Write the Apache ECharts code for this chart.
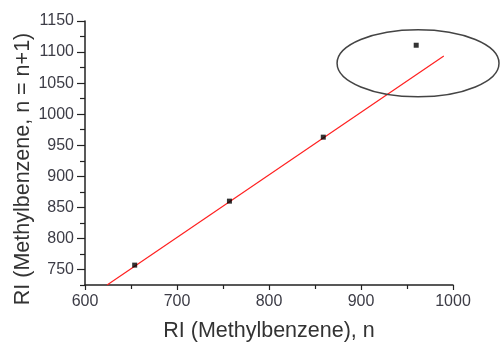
<!DOCTYPE html>
<html>
<head>
<meta charset="utf-8">
<script src="https://cdn.jsdelivr.net/npm/echarts@6/dist/echarts.min.js"></script>
<style>
  html, body { margin: 0; padding: 0; background: #fff; }
  #chart { width: 504px; height: 342px; }
</style>
</head>
<body>
<div id="chart"></div>
<script>
// Retention indices: n-membered vs (n+1)-membered methylbenzenes
const riN = [654, 757, 859, 960];
const riN1 = [757, 860, 963, 1111];

// Linear fit drawn across the plotted range
const fitX = [624, 990];
const fitY = [725, 1093.5];

// Outlier highlighted by an ellipse (data units)
const outlierCenter = [962, 1082];
const outlierRadius = [88, 54];

const xTicks = [600, 700, 800, 900, 1000];
const yTicks = [750, 800, 850, 900, 950, 1000, 1050, 1100, 1150];
// short ticks halfway between labelled values
const yMinorTicks = yTicks.map(v => v - 25);

const font = 'Liberation Sans, Arial, sans-serif';
const textColor = '#3c3c46';
const axisColor = '#222';
const chart = echarts.init(document.getElementById('chart'));

chart.setOption({
  animation: false,
  backgroundColor: '#fff',
  grid: { left: 85, right: 51, top: 21, bottom: 57, containLabel: false, outerBoundsMode: 'none' },
  xAxis: {
    type: 'value',
    min: 600, max: 1000, interval: 100,
    name: 'RI (Methylbenzene), n',
    nameLocation: 'middle', nameGap: 35, nameMoveOverlap: false,
    nameTextStyle: { fontFamily: font, fontSize: 21.5, color: '#333' },
    axisLine: { onZero: false, lineStyle: { color: axisColor, width: 1.5 } },
    axisTick: { length: 5, lineStyle: { color: axisColor, width: 1.2 } },
    minorTick: { show: true, splitNumber: 2, length: 4, lineStyle: { color: axisColor, width: 1.2 } },
    splitLine: { show: false },
    axisLabel: {
      fontFamily: font, fontSize: 16, color: textColor, margin: 9,
      formatter: v => xTicks.includes(v) ? String(v) : ''
    }
  },
  yAxis: [
    {
      type: 'value',
      min: 725, max: 1150,
      name: 'RI (Methylbenzene, n = n+1)',
      nameLocation: 'middle', nameGap: 51, nameMoveOverlap: false,
      nameTextStyle: { fontFamily: font, fontSize: 21.5, color: '#333', padding: [0, 32, 0, 0] },
      axisLine: { onZero: false, lineStyle: { color: axisColor, width: 1.5 } },
      axisTick: { customValues: yTicks, length: 8, lineStyle: { color: axisColor, width: 1.2 } },
      splitLine: { show: false },
      axisLabel: {
        customValues: yTicks,
        fontFamily: font, fontSize: 16, color: textColor, margin: 11,
        formatter: v => String(v)
      }
    },
    {
      type: 'value',
      position: 'left',
      min: 725, max: 1150,
      axisLine: { show: false },
      axisTick: { customValues: yMinorTicks, length: 5, lineStyle: { color: axisColor, width: 1.2 } },
      axisLabel: { show: false },
      splitLine: { show: false }
    }
  ],
  series: [
    {
      type: 'line',
      data: fitX.map((x, i) => [x, fitY[i]]),
      symbol: 'none',
      lineStyle: { color: '#ff2020', width: 1.2 },
      silent: true,
      z: 2
    },
    {
      type: 'scatter',
      data: riN.map((x, i) => [x, riN1[i]]),
      symbol: 'rect',
      symbolSize: 5,
      itemStyle: { color: '#000' },
      z: 3
    }
  ]
});

// Ellipse around the outlying point, placed from data coordinates
const c = chart.convertToPixel({ gridIndex: 0 }, outlierCenter);
const e = chart.convertToPixel({ gridIndex: 0 }, [outlierCenter[0] + outlierRadius[0], outlierCenter[1] + outlierRadius[1]]);
chart.setOption({
  graphic: [{
    type: 'ellipse',
    shape: { cx: c[0], cy: c[1], rx: Math.abs(e[0] - c[0]), ry: Math.abs(e[1] - c[1]) },
    style: { fill: 'none', stroke: '#444', lineWidth: 1.5 },
    z: 10
  }]
});
</script>
</body>
</html>
